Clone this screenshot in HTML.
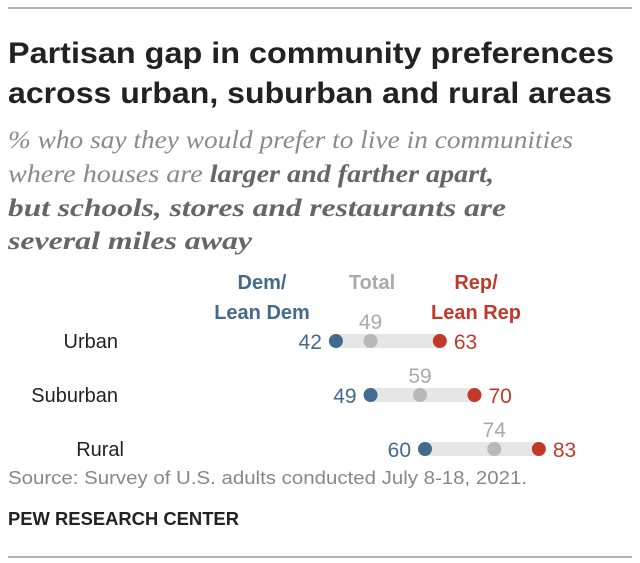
<!DOCTYPE html>
<html><head><meta charset="utf-8"><style>
body{margin:0;background:#fff;width:640px;height:563px;overflow:hidden;font-family:"Liberation Sans",sans-serif;}
svg{display:block}
</style></head><body>
<svg width="640" height="563">
<line x1="8" y1="8" x2="632" y2="8" stroke="#666" stroke-width="1"/>
<text x="8" y="63" font-size="30" font-weight="bold" fill="#222" textLength="606" lengthAdjust="spacingAndGlyphs">Partisan gap in community preferences</text>
<text x="8" y="103" font-size="30" font-weight="bold" fill="#222" textLength="604" lengthAdjust="spacingAndGlyphs">across urban, suburban and rural areas</text>
<g font-family="Liberation Serif,serif" font-style="italic" font-size="25" fill="#8a8a8a">
<text x="8" y="148" textLength="565" lengthAdjust="spacingAndGlyphs">% who say they would prefer to live in communities</text>
<text x="8" y="182" textLength="486" lengthAdjust="spacingAndGlyphs">where houses are <tspan font-weight="bold" fill="#666">larger and farther apart,</tspan></text>
<text x="8" y="216" font-weight="bold" fill="#666" textLength="498" lengthAdjust="spacingAndGlyphs">but schools, stores and restaurants are</text>
<text x="8" y="249" font-weight="bold" fill="#666" textLength="244" lengthAdjust="spacingAndGlyphs">several miles away</text>
</g>
<g font-size="20" font-weight="bold" text-anchor="middle">
<text x="262" y="289" fill="#436b8e">Dem/</text><text x="262" y="319" fill="#436b8e">Lean Dem</text>
<text x="372" y="289" fill="#aaa">Total</text>
<text x="476" y="289" fill="#c0392b">Rep/</text><text x="476" y="319" fill="#c0392b">Lean Rep</text>
</g>
<g id="rows"></g>
<text x="8" y="484" font-size="18" fill="#888" textLength="519" lengthAdjust="spacingAndGlyphs">Source: Survey of U.S. adults conducted July 8-18, 2021.</text>
<text x="8" y="525" font-size="18" font-weight="bold" fill="#222" textLength="231" lengthAdjust="spacingAndGlyphs">PEW RESEARCH CENTER</text>
<line x1="8" y1="557" x2="632" y2="557" stroke="#666" stroke-width="1"/>
</svg>
<script>
const categories=["Urban","Suburban","Rural"];
const demValues=[42,49,60];
const totalValues=[49,59,74];
const repValues=[63,70,83];
const xs=v=>128+v*4.95;
const ys=i=>341+i*54;
const g=document.getElementById('rows');
const NS="http://www.w3.org/2000/svg";
const labelRight=[118,118,124];
function mk(tag,attrs,txt){const e=document.createElementNS(NS,tag);for(const k in attrs)e.setAttribute(k,attrs[k]);if(txt!==undefined)e.textContent=txt;g.appendChild(e);return e;}
categories.forEach((c,i)=>{
 const y=ys(i);
 let e=mk('text',{x:labelRight[i],y:y+7,'font-size':20,fill:'#222','text-anchor':'end'},c);
 
 
 e=mk('rect',{x:xs(demValues[i]),y:y-7,width:xs(repValues[i])-xs(demValues[i]),height:14,fill:'#e6e6e6'});
 
 
 e=mk('circle',{cx:xs(totalValues[i]),cy:y,r:7,fill:'#b8b8b8'});
 
 
 e=mk('circle',{cx:xs(demValues[i]),cy:y,r:7,fill:'#436b8e'});
 
 
 e=mk('circle',{cx:xs(repValues[i]),cy:y,r:7,fill:'#c0392b'});
 
 
 e=mk('text',{x:xs(demValues[i])-14,y:y+8,'font-size':21,fill:'#436b8e','text-anchor':'end'},demValues[i]);
 
 
 e=mk('text',{x:xs(totalValues[i]),y:y-12,'font-size':21,fill:'#aaa','text-anchor':'middle'},totalValues[i]);
 
 
 e=mk('text',{x:xs(repValues[i])+14,y:y+8,'font-size':21,fill:'#c0392b','text-anchor':'start'},repValues[i]);
 
 
});
</script>
</body></html>
